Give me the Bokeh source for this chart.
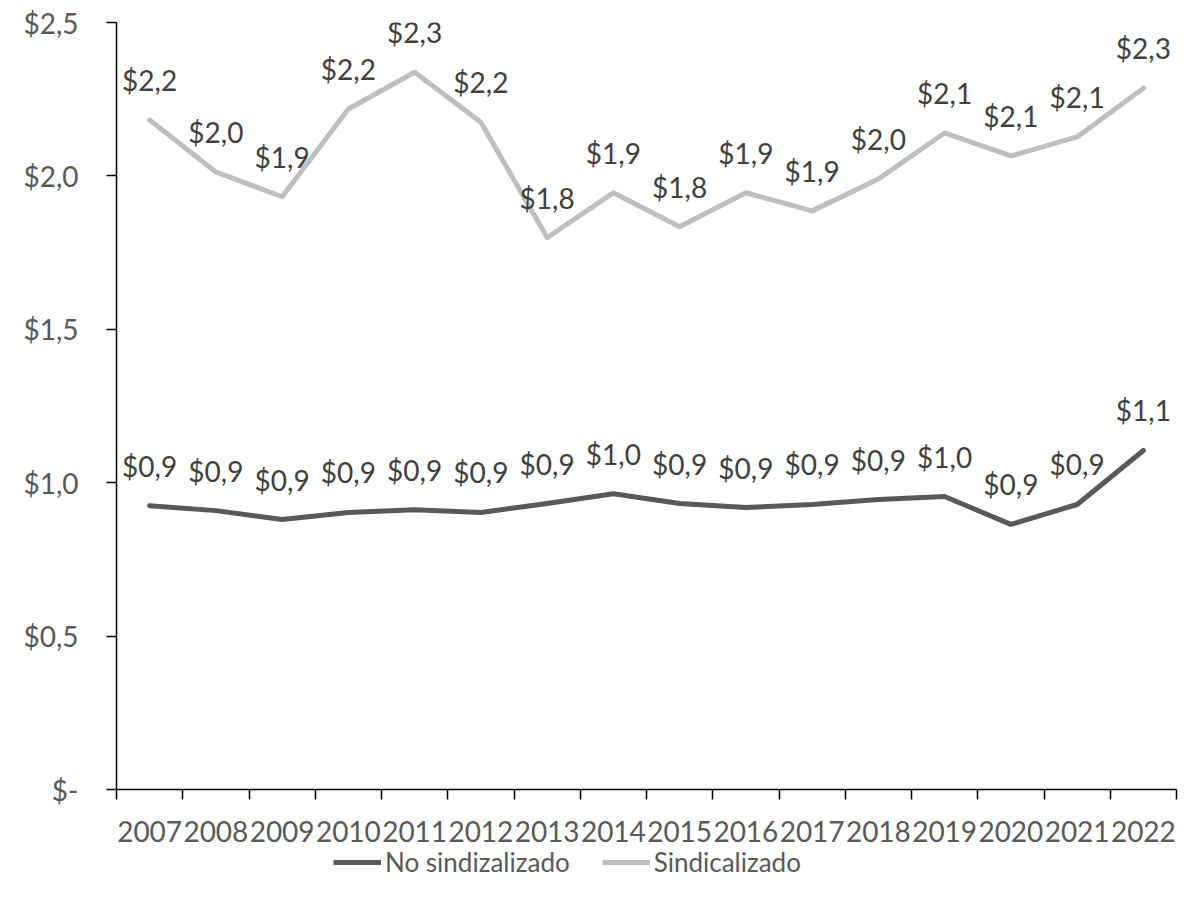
from bokeh.plotting import figure
from bokeh.models import (Range1d, FixedTicker, ColumnDataSource,
                          Legend, LegendItem, LabelSet)
from bokeh.layouts import column
from bokeh.core.properties import value
from bokeh.embed import file_html
from bokeh.resources import INLINE

years = ["2007", "2008", "2009", "2010", "2011", "2012", "2013", "2014",
         "2015", "2016", "2017", "2018", "2019", "2020", "2021", "2022"]
no_sind = [0.925, 0.909, 0.880, 0.903, 0.912, 0.903, 0.932, 0.964,
           0.932, 0.919, 0.929, 0.945, 0.955, 0.864, 0.929, 1.105]
sind = [2.182, 2.013, 1.932, 2.218, 2.338, 2.175, 1.799, 1.945,
        1.834, 1.945, 1.886, 1.990, 2.140, 2.065, 2.127, 2.286]
no_sind_labels = ["$0,9", "$0,9", "$0,9", "$0,9", "$0,9", "$0,9", "$0,9", "$1,0",
                  "$0,9", "$0,9", "$0,9", "$0,9", "$1,0", "$0,9", "$0,9", "$1,1"]
sind_labels = ["$2,2", "$2,0", "$1,9", "$2,2", "$2,3", "$2,2", "$1,8", "$1,9",
               "$1,8", "$1,9", "$1,9", "$2,0", "$2,1", "$2,1", "$2,1", "$2,3"]
y_ticks = [0, 0.5, 1.0, 1.5, 2.0, 2.5]
y_tick_labels = ["$-", "$0,5", "$1,0", "$1,5", "$2,0", "$2,5"]
series_names = ["No sindizalizado", "Sindicalizado"]

FONT = "Lato"
FS = "28px"
DARK = "#595959"
LIGHT = "#BFBFBF"

n = len(years)
idx = list(range(n))
W = 1195

p = figure(width=W, height=846, x_range=Range1d(-0.5, n - 0.5), y_range=Range1d(0, 2.5),
           output_backend="svg", toolbar_location=None,
           min_border_left=116, min_border_right=19, min_border_top=22, min_border_bottom=57)
p.outline_line_color = None
p.xgrid.visible = False
p.ygrid.visible = False
p.background_fill_color = "white"
p.border_fill_color = "white"

# y axis
ya = p.yaxis[0]
ya.ticker = FixedTicker(ticks=y_ticks)
ya.major_label_overrides = {t: l for t, l in zip(y_ticks, y_tick_labels)}
ya.axis_line_color = "black"
ya.axis_line_width = 1.5
ya.major_tick_line_color = "black"
ya.major_tick_line_width = 1.5
ya.major_tick_out = 10
ya.major_tick_in = 0
ya.minor_tick_line_color = None
ya.major_label_standoff = 28
ya.major_label_text_font = FONT
ya.major_label_text_font_size = FS
ya.major_label_text_color = DARK

# x axis: labels at category centres, tick marks (minor ticks) at category boundaries
xa = p.xaxis[0]
xa.ticker = FixedTicker(ticks=idx, minor_ticks=[i - 0.5 for i in range(n + 1)])
xa.major_label_overrides = {i: y for i, y in zip(idx, years)}
xa.axis_line_color = "black"
xa.axis_line_width = 1.5
xa.major_tick_line_color = None
xa.major_tick_out = 0
xa.major_tick_in = 0
xa.minor_tick_line_color = "black"
xa.minor_tick_line_width = 1.5
xa.minor_tick_out = 10
xa.minor_tick_in = 0
xa.major_label_standoff = 21
xa.major_label_text_font = FONT
xa.major_label_text_font_size = FS
xa.major_label_text_color = DARK

src = ColumnDataSource(dict(x=idx, no=no_sind, si=sind, nol=no_sind_labels, sil=sind_labels))

p.line("x", "no", source=src, line_color=DARK, line_width=5, line_join="round", line_cap="round")
p.line("x", "si", source=src, line_color=LIGHT, line_width=5, line_join="round", line_cap="round")

for col, lab in (("no", "nol"), ("si", "sil")):
    ls = LabelSet(x="x", y=col, text=lab, source=src, y_offset=23, text_align="center",
                  text_baseline="bottom", text_font=value(FONT), text_font_size=FS,
                  text_color="#404040")
    p.add_layout(ls)

# legend strip below the chart
lg = figure(width=W, height=60, x_range=Range1d(-0.5, n - 0.5), y_range=Range1d(10, 11),
            output_backend="svg", toolbar_location=None,
            x_axis_location=None, y_axis_location=None,
            min_border_left=0, min_border_right=0, min_border_top=0, min_border_bottom=0)
lg.outline_line_color = None
lg.xgrid.visible = False
lg.ygrid.visible = False
l_no = lg.line("x", "no", source=src, line_color=DARK, line_width=5)
l_si = lg.line("x", "si", source=src, line_color=LIGHT, line_width=5)

legend = Legend(items=[LegendItem(label=series_names[0], renderers=[l_no]),
                       LegendItem(label=series_names[1], renderers=[l_si])],
                orientation="horizontal", location=(217, 28),
                label_text_font=FONT, label_text_font_size="26px", label_text_color=DARK,
                glyph_width=48, label_standoff=4, spacing=32, padding=0, margin=0,
                border_line_color=None, background_fill_alpha=0)
lg.add_layout(legend)

layout = column(p, lg, spacing=0)
open("out.html", "w").write(file_html(layout, INLINE))
